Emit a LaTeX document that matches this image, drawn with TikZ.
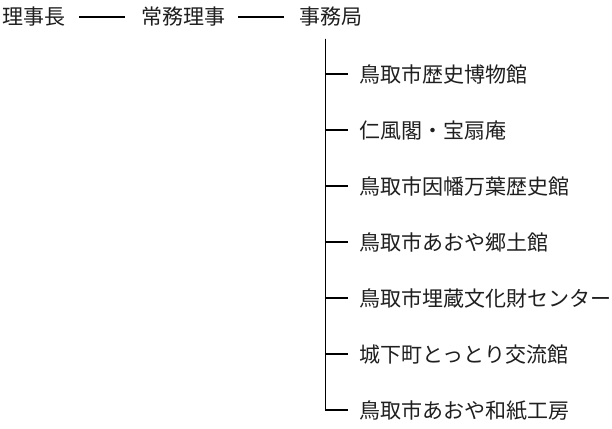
\documentclass[tikz,border=0pt]{standalone}
\usepackage{fontspec}
\newfontfamily\jp{Noto Sans CJK JP}
\begin{document}
\begin{tikzpicture}[x=1pt,y=-1pt,
  lbl/.style={anchor=base west,inner sep=0pt,font=\jp\fontsize{21}{25}\selectfont,text=black!88},
  conn/.style={line width=1.4pt,black},
  tree/.style={line width=1.9pt,black}]
\useasboundingbox[fill=white] (0,0) rectangle (612,428);
\node[lbl] (chief) at (2,25) {理事長};
\node[lbl] (exec) at (141,25) {常務理事};
\node[lbl] (office) at (299,25) {事務局};
\draw[conn] ([xshift=14pt]chief.east |- 0,17) -- ([xshift=-16pt]exec.west |- 0,17);
\draw[conn] ([xshift=13pt]exec.east |- 0,17) -- ([xshift=-15pt]office.west |- 0,17);
\coordinate (top) at (325.5,39);
\foreach \n/\t [count=\i from 0] in {a/鳥取市歴史博物館,b/仁風閣・宝扇庵,c/鳥取市因幡万葉歴史館,d/鳥取市あおや郷土館,e/鳥取市埋蔵文化財センター,f/城下町とっとり交流館,g/鳥取市あおや和紙工房}{
  \node[lbl] (\n) at (359,{82+56*\i}) {\t};
  \coordinate (\n c) at (359,{74+56*\i});
}
\foreach \n in {a,b,c,d,e,f,g}{
  \draw[tree,shorten >=11pt] (top) |- (\n c);
}
\end{tikzpicture}
\end{document}
